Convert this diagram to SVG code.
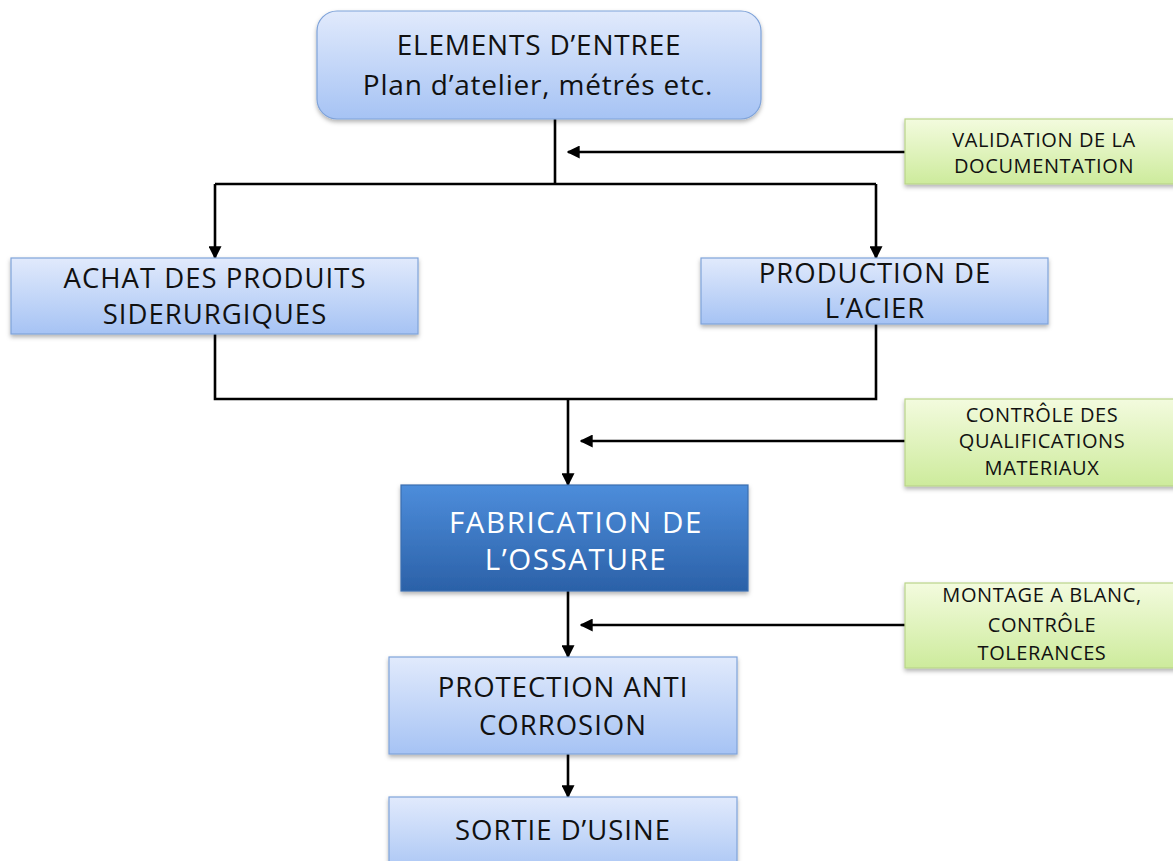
<svg xmlns="http://www.w3.org/2000/svg" width="1173" height="861" viewBox="0 0 1173 861">
  <style>
    .lbl { font-family: "Open Sans", Lato, "Liberation Sans", sans-serif; text-anchor: middle; fill: #111; }
    .big { font-size: 27.5px; letter-spacing: 1px; }
    .top { font-size: 28px; letter-spacing: 0.8px; }
    .hero { font-size: 29.5px; letter-spacing: 1.6px; fill: #fff; }
    .small { font-size: 20px; letter-spacing: 0.6px; }
    .light { fill: url(#gLight); stroke: #7fa3d9; stroke-width: 1.2; filter: url(#shadow); }
    .dark { fill: url(#gDark); stroke: #3b6fb0; stroke-width: 1.2; filter: url(#shadow); }
    .green { fill: url(#gGreen); stroke: #b9d48a; stroke-width: 1.2; filter: url(#shadow); }
    .wire { fill: none; stroke: #000; stroke-width: 2.6; }
  </style>
  <defs>
    <linearGradient id="gLight" x1="0" y1="0" x2="0" y2="1">
      <stop offset="0" stop-color="#e1eafc"/>
      <stop offset="1" stop-color="#a6c3f4"/>
    </linearGradient>
    <linearGradient id="gDark" x1="0" y1="0" x2="0" y2="1">
      <stop offset="0" stop-color="#4d8ddb"/>
      <stop offset="1" stop-color="#2b61a8"/>
    </linearGradient>
    <linearGradient id="gGreen" x1="0" y1="0" x2="0" y2="1">
      <stop offset="0" stop-color="#f3fbde"/>
      <stop offset="1" stop-color="#cdeb9c"/>
    </linearGradient>
    <filter id="shadow" x="-10%" y="-10%" width="120%" height="130%">
      <feDropShadow dx="0" dy="2.5" stdDeviation="2" flood-color="#000" flood-opacity="0.3"/>
    </filter>
    <marker id="arrow" viewBox="0 0 10 10" refX="9" refY="5" markerWidth="5" markerHeight="5" orient="auto" markerUnits="strokeWidth">
      <path d="M0,0 L10,5 L0,10 z" fill="#000"/>
    </marker>
  </defs>

  <!-- connectors -->
  <g id="connectors">
    <path class="wire" d="M555,119 V184"/>
    <path class="wire" d="M215,184 H876"/>
    <path class="wire" d="M215,184 V258" marker-end="url(#arrow)"/>
    <path class="wire" d="M876,184 V258" marker-end="url(#arrow)"/>
    <path class="wire" d="M905,152 H568" marker-end="url(#arrow)"/>
    <path class="wire" d="M215,334 V399 H876 V324"/>
    <path class="wire" d="M568,399 V485" marker-end="url(#arrow)"/>
    <path class="wire" d="M905,441 H581" marker-end="url(#arrow)"/>
    <path class="wire" d="M568,591 V657" marker-end="url(#arrow)"/>
    <path class="wire" d="M905,625 H581" marker-end="url(#arrow)"/>
    <path class="wire" d="M568,754 V797" marker-end="url(#arrow)"/>
  </g>

  <g id="entree">
    <rect class="light" x="317" y="11" width="444" height="108" rx="20"/>
    <text class="lbl top" x="539" y="55">ELEMENTS D’ENTREE</text>
    <text class="lbl top" x="538" y="95">Plan d’atelier, métrés etc.</text>
  </g>

  <g id="validation">
    <rect class="green" x="905" y="119" width="275" height="65"/>
    <text class="lbl small" x="1044" y="147">VALIDATION DE LA</text>
    <text class="lbl small" x="1044" y="173">DOCUMENTATION</text>
  </g>

  <g id="achat">
    <rect class="light" x="11" y="258" width="407" height="76"/>
    <text class="lbl big" x="215" y="288">ACHAT DES PRODUITS</text>
    <text class="lbl big" x="215" y="324">SIDERURGIQUES</text>
  </g>

  <g id="production">
    <rect class="light" x="701" y="258" width="347" height="66"/>
    <text class="lbl big" x="875" y="283">PRODUCTION DE</text>
    <text class="lbl big" x="875" y="318">L’ACIER</text>
  </g>

  <g id="controle">
    <rect class="green" x="905" y="399" width="275" height="87"/>
    <text class="lbl small" x="1042" y="422">CONTRÔLE DES</text>
    <text class="lbl small" x="1042" y="448">QUALIFICATIONS</text>
    <text class="lbl small" x="1042" y="475">MATERIAUX</text>
  </g>

  <g id="fabrication">
    <rect class="dark" x="401" y="485" width="347" height="106"/>
    <text class="lbl hero" x="576" y="533">FABRICATION DE</text>
    <text class="lbl hero" x="576" y="570">L’OSSATURE</text>
  </g>

  <g id="montage">
    <rect class="green" x="905" y="583" width="275" height="85"/>
    <text class="lbl small" x="1042" y="602">MONTAGE A BLANC,</text>
    <text class="lbl small" x="1042" y="632">CONTRÔLE</text>
    <text class="lbl small" x="1042" y="660">TOLERANCES</text>
  </g>

  <g id="protection">
    <rect class="light" x="389" y="657" width="348" height="97"/>
    <text class="lbl big" x="563" y="697">PROTECTION ANTI</text>
    <text class="lbl big" x="563" y="735">CORROSION</text>
  </g>

  <g id="sortie">
    <rect class="light" x="389" y="797" width="348" height="80"/>
    <text class="lbl big" x="563" y="840">SORTIE D’USINE</text>
  </g>
</svg>
